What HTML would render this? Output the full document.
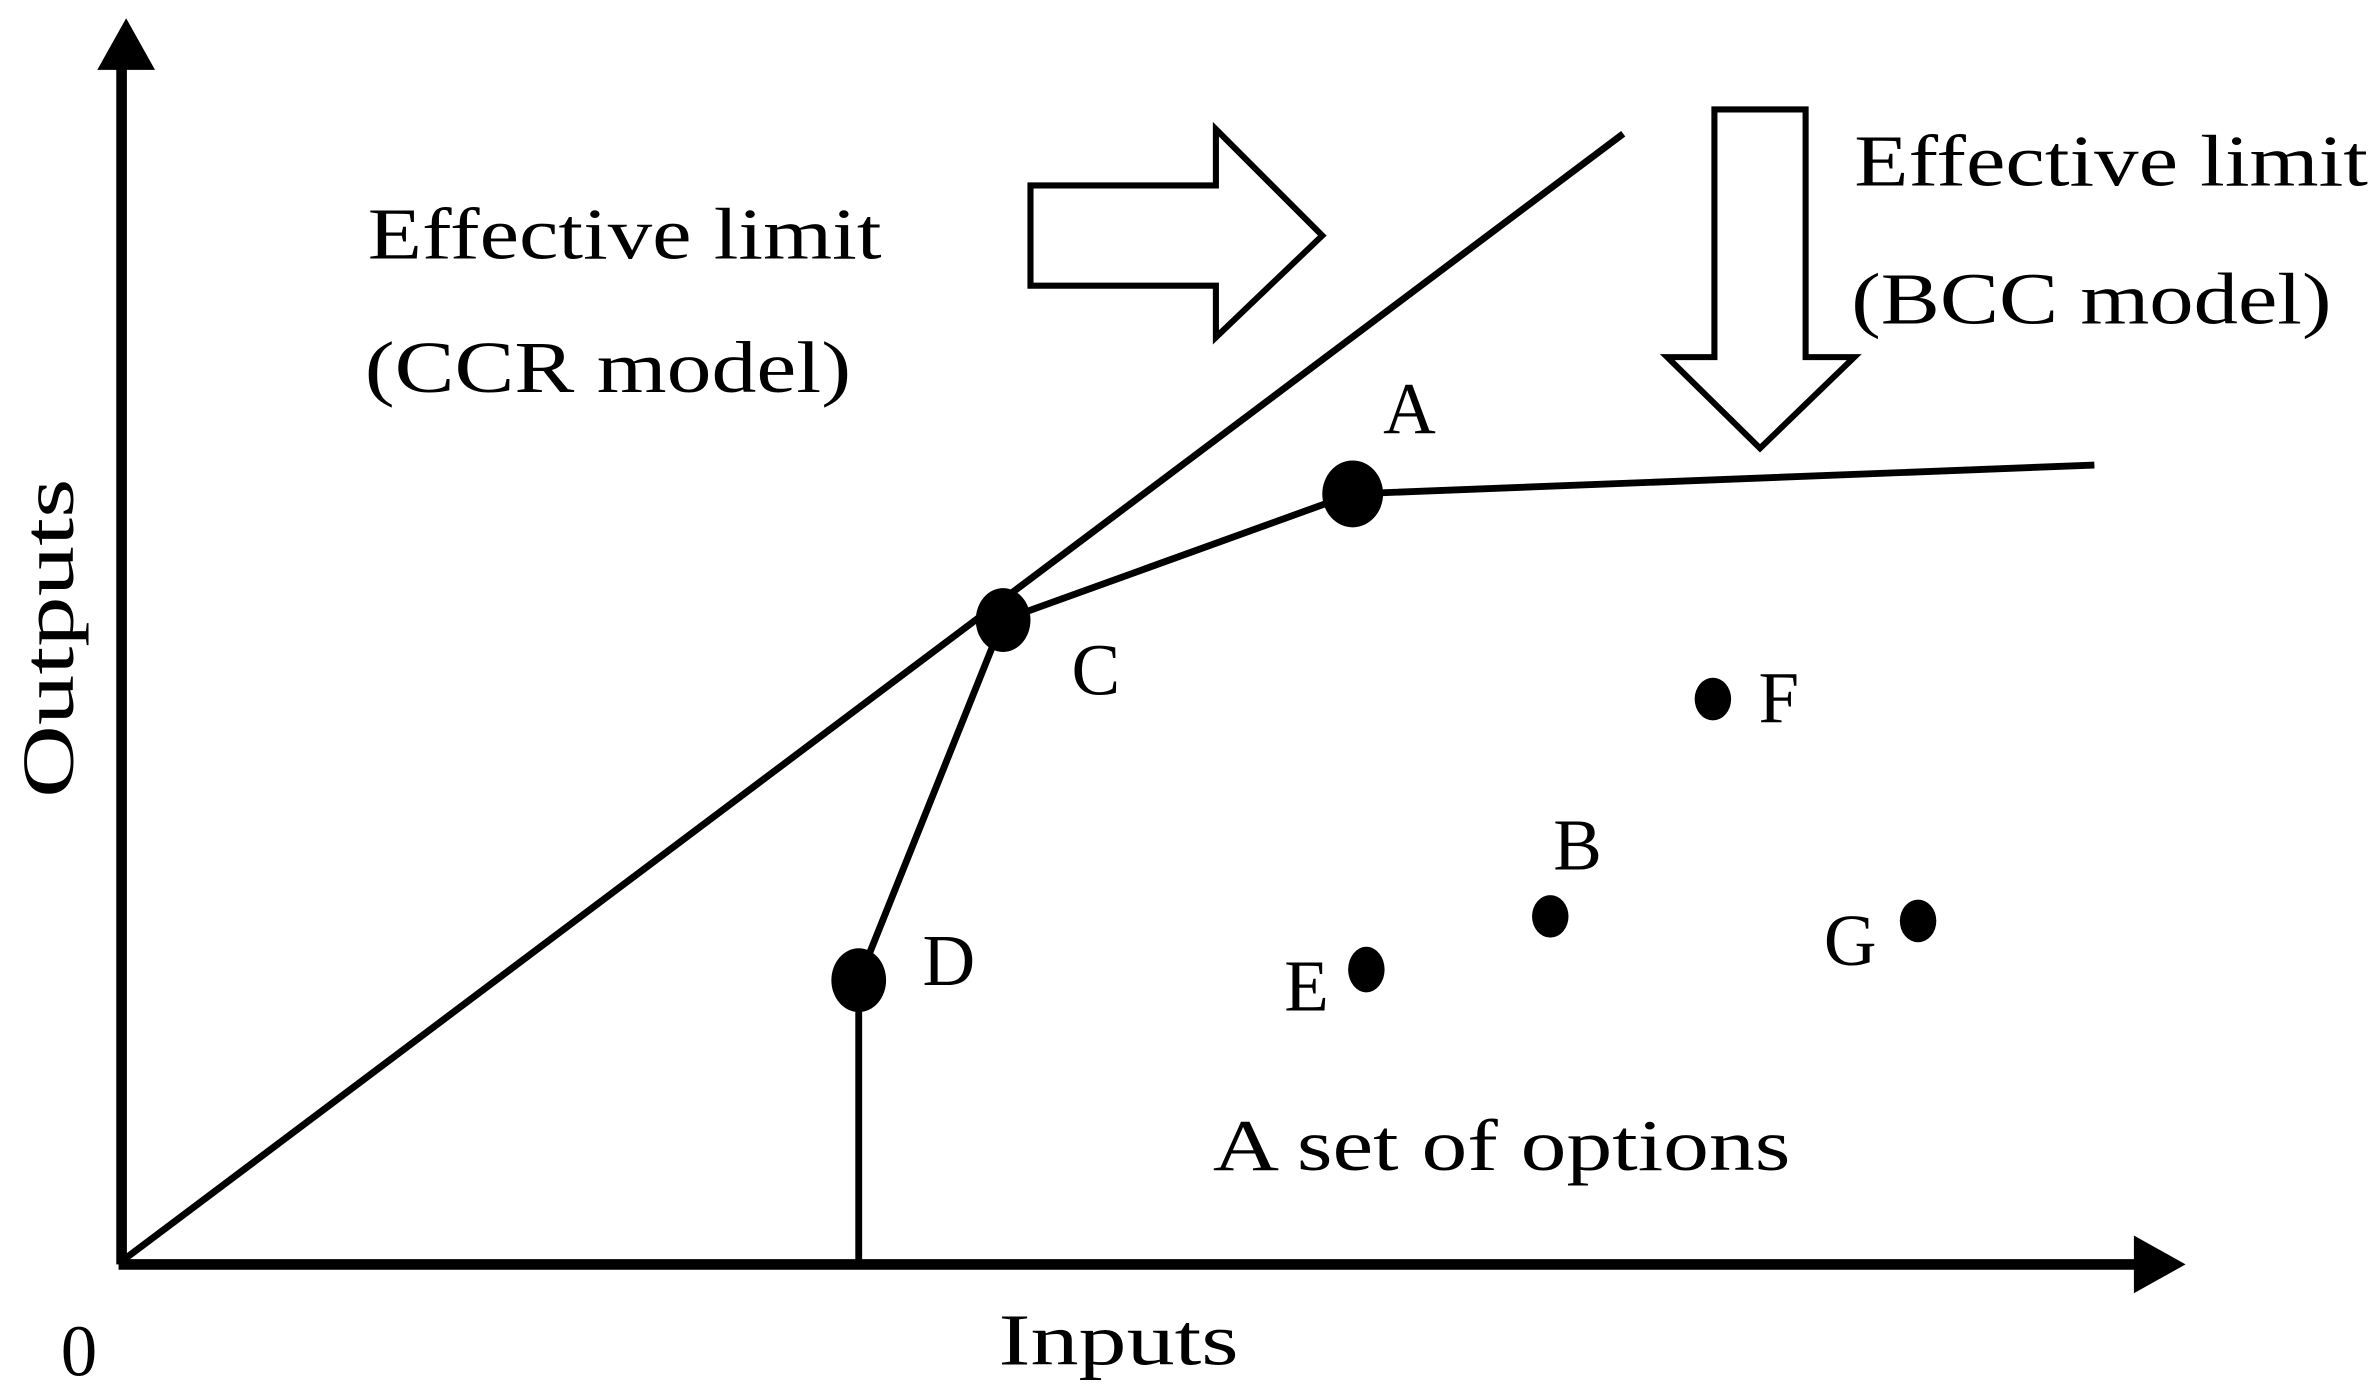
<!DOCTYPE html>
<html><head><meta charset="utf-8"><style>
html,body{margin:0;padding:0;background:#fff;}
svg{display:block;}
text{font-family:"Liberation Serif",serif;fill:#000;}
</style></head><body>
<svg width="2371" height="1389" viewBox="0 0 1560 914" preserveAspectRatio="none" xmlns="http://www.w3.org/2000/svg">
<g stroke="#000" fill="none">
<line x1="80" y1="832" x2="80" y2="40" stroke-width="7"/>
<line x1="78" y1="832" x2="1410" y2="832" stroke-width="7"/>
<line x1="80" y1="830" x2="1068" y2="88" stroke-width="4.5"/>
<polyline points="565,832 565,645 660,408 890,325 1378,306" stroke-width="4.5"/>
<polygon points="678,122 800,122 800,85 870,155 800,222 800,188 678,188" stroke-width="4"/>
<polygon points="1128,72 1188,72 1188,235 1220,235 1158,295 1097,235 1128,235" stroke-width="4"/>
</g>
<polygon points="83,12 64,46 102,46" fill="#000"/>
<polygon points="1438,832 1404,813 1404,851" fill="#000"/>
<g fill="#000">
<ellipse cx="890" cy="325" rx="20" ry="22"/>
<ellipse cx="660" cy="408" rx="18" ry="21"/>
<ellipse cx="565" cy="645" rx="18" ry="21"/>
<ellipse cx="899" cy="638" rx="12" ry="15"/>
<ellipse cx="1020" cy="603" rx="12" ry="14"/>
<ellipse cx="1127" cy="460" rx="12" ry="14"/>
<ellipse cx="1262" cy="606" rx="12" ry="14"/>
</g>
<g font-size="48">
<text x="242" y="170" textLength="338" lengthAdjust="spacingAndGlyphs">Effective limit</text>
<text x="240" y="258" textLength="320" lengthAdjust="spacingAndGlyphs">(CCR model)</text>
<text x="1220" y="122" textLength="338" lengthAdjust="spacingAndGlyphs">Effective limit</text>
<text x="1218" y="213" textLength="316" lengthAdjust="spacingAndGlyphs">(BCC model)</text>
<text x="798" y="770" textLength="380" lengthAdjust="spacingAndGlyphs">A set of options</text>
<text x="657" y="898" textLength="158" lengthAdjust="spacingAndGlyphs">Inputs</text>
<text x="40" y="905">0</text>
<text x="910" y="285">A</text>
<text x="705" y="457">C</text>
<text x="1157" y="475">F</text>
<text x="1022" y="572">B</text>
<text x="1200" y="635">G</text>
<text x="845" y="665">E</text>
<text x="607" y="648">D</text>
<text transform="translate(48,525) rotate(-90)" textLength="210" lengthAdjust="spacingAndGlyphs">Outputs</text>
</g>
</svg>
</body></html>
